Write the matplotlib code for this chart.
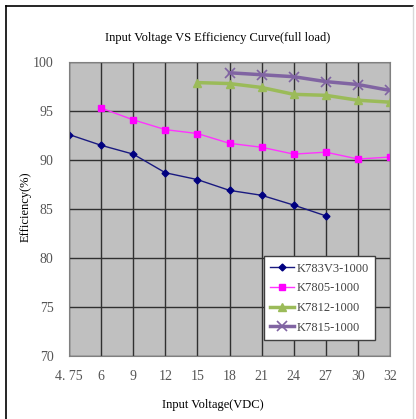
import numpy as np
import matplotlib.pyplot as plt

plt.rcParams['font.family'] = ['Liberation Serif', 'DejaVu Serif']

voltages = ["4. 75", "6", "9", "12", "15", "18", "21", "24", "27", "30", "32"]

# efficiency per model, None where the model has no data at that voltage
k783v3 = [92.6, 91.5, 90.6, 88.7, 88.0, 86.9, 86.4, 85.4, 84.3, None, None]
k7805 = [None, 95.3, 94.1, 93.1, 92.7, 91.7, 91.3, 90.6, 90.8, 90.1, 90.3]
k7812 = [None, None, None, None, 97.9, 97.8, 97.4, 96.7, 96.6, 96.1, 95.9]
k7815 = [None, None, None, None, None, 98.9, 98.7, 98.5, 98.0, 97.7, 97.1]

names = ["K783V3-1000", "K7805-1000", "K7812-1000", "K7815-1000"]


def pts(vals):
    idx = [i for i, v in enumerate(vals) if v is not None]
    return idx, [vals[i] for i in idx]


W, H = 416, 419
fig = plt.figure(figsize=(W / 100, H / 100), dpi=100)
ax = fig.add_axes([69 / W, 1 - 356 / H, (390 - 69) / W, (356 - 62) / H])

# outer frame of the chart area
ftr = fig.transFigure
fig.add_artist(plt.Line2D([5.5 / W, 5.5 / W], [0, 1 - 6.5 / H], color='black', lw=1.2, transform=ftr))
fig.add_artist(plt.Line2D([5.5 / W, 413 / W], [1 - 6.5 / H, 1 - 6.5 / H], color='black', lw=1.2, transform=ftr))
fig.add_artist(plt.Line2D([413 / W, 413 / W], [0, 1 - 6.5 / H], color='#d8d8d8', lw=1, transform=ftr))

ax.set_facecolor('#c0c0c0')

x, y = pts(k783v3)
ax.plot(x, y, color='#1a1a80', lw=1, marker='D', ms=3.5, mfc='#000080', mec='#000080', label=names[0])
x, y = pts(k7805)
ax.plot(x, y, color='#ff33ff', lw=1, marker='s', ms=5, mfc='#ff00ff', mec='#ff00ff', label=names[1])
x, y = pts(k7812)
ax.plot(x, y, color='#9bbb59', lw=2.5, marker='^', ms=6, mfc='#9bbb59', mec='#9bbb59', label=names[2])
x, y = pts(k7815)
ax.plot(x, y, color='#8064a2', lw=2.5, marker='x', ms=7, mew=1.2, label=names[3])

ax.set_xlim(0, 10)
ax.set_ylim(70, 100)
ax.set_xticks(range(len(voltages)))
ax.set_xticklabels(voltages)
ax.set_yticks(np.arange(70, 101, 5))
ax.grid(True, color='#303030', lw=1)
ax.set_axisbelow(True)
ax.tick_params(length=0, labelsize=10, labelcolor='#555555')
ax.tick_params(axis='x', pad=10)
ax.tick_params(axis='y', pad=11)
for s in ax.spines.values():
    s.set_color('#808080')

fig.text(218 / W, 1 - 38 / H, "Input Voltage VS Efficiency Curve(full load)", fontsize=9,
         ha='center', va='center')
fig.text(213 / W, 1 - 405 / H, "Input Voltage(VDC)", fontsize=9, ha='center', va='center')
fig.text(26 / W, 1 - 207 / H, "Efficiency(%)", fontsize=9, ha='center', va='center', rotation=90)

leg = ax.legend(loc='lower right', bbox_to_anchor=(375 / W, 1 - 340 / H), bbox_transform=ftr,
                fontsize=9, frameon=True, fancybox=False, edgecolor='#404040', framealpha=1,
                handlelength=1.9, handletextpad=0.2, labelspacing=0.62, borderpad=0.5,
                borderaxespad=0)
leg.get_frame().set_linewidth(1)
for t in leg.get_texts():
    t.set_color('#444444')

fig.savefig("out.png", dpi=100)
